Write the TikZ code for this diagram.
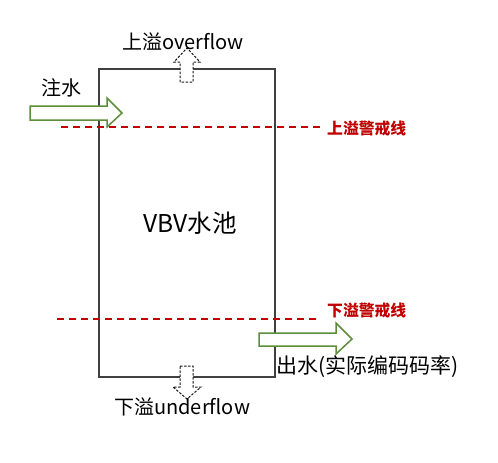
\documentclass[tikz,border=0pt]{standalone}
\usepackage{fontspec}
\setmainfont{Noto Sans CJK SC}
\begin{document}
\begin{tikzpicture}[x=1pt,y=-1pt,
  lbl/.style={inner sep=0pt,font=\fontsize{20}{20}\selectfont},
  warn/.style={inner sep=0pt,text=warnred,font=\fontsize{15.8}{16}\selectfont\bfseries},
  warnline/.style={draw=warnred,line width=1.6pt,dash pattern=on 7pt off 5pt},
  greenarrow/.style={draw=arrowgreen,fill=white,line width=1.5pt,line join=miter},
  dasharrow/.style={draw=black!90,fill=white,line width=1pt,dash pattern=on 2.5pt off 1.5pt}]
\definecolor{warnred}{HTML}{C00000}
\definecolor{arrowgreen}{HTML}{5B8E3A}
\useasboundingbox (0,0) rectangle (498,463);
% pool
\node[draw=black!75,line width=1.5pt,minimum width=176pt,minimum height=308pt,inner sep=0pt] (pool) at (187,223) {};
\node[inner sep=0pt,font=\fontsize{24.5}{25}\selectfont] (title) at (190,223) {VBV水池};
% warning lines
\coordinate (u1) at (61,127); \coordinate (u2) at (320,127);
\coordinate (l1) at (57,319); \coordinate (l2) at (317,319);
\draw[warnline] (u1) -- (u2);
\draw[warnline] (l1) -- (l2);
\node[warn,anchor=west] (uw) at (327,128) {上溢警戒线};
\node[warn,anchor=west] (lw) at (327,310) {下溢警戒线};
% inflow arrow
\draw[greenarrow] (30,106) -- (107,106) -- (107,98) -- (122,113) -- (107,127) -- (107,120) -- (30,120) -- cycle;
\node[lbl,anchor=west] (in) at (41,88) {注水};
% outflow arrow
\draw[greenarrow] (259,333) -- (336,333) -- (336,323) -- (352,339) -- (336,354) -- (336,346) -- (259,346) -- cycle;
\node[lbl,anchor=west,font=\fontsize{21}{21}\selectfont] (out) at (276,367) {出水(实际编码码率)};
% overflow arrow
\draw[dasharrow] (180,82) -- (180,62) -- (174,62) -- (187,48) -- (200,62) -- (193,62) -- (193,82) -- cycle;
\node[lbl,anchor=west] (over) at (122,42) {上溢overflow};
% underflow arrow
\draw[dasharrow] (180,366) -- (193,366) -- (193,387) -- (201,387) -- (187,399) -- (173,387) -- (180,387) -- cycle;
\node[lbl,anchor=west] (under) at (114,407) {下溢underflow};
\end{tikzpicture}
\end{document}
